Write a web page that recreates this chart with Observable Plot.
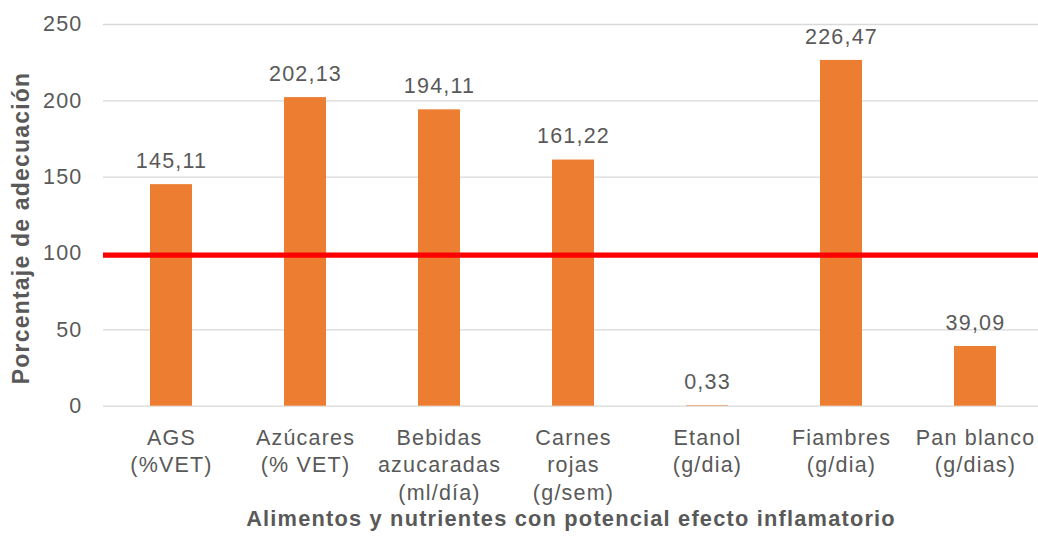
<!DOCTYPE html>
<html>
<head>
<meta charset="utf-8">
<script src="https://cdn.jsdelivr.net/npm/d3@7"></script>
<script src="https://cdn.jsdelivr.net/npm/@observablehq/plot@0.6"></script>
<style>
  html, body { margin: 0; padding: 0; background: #fff; overflow: hidden; }
  #chart svg { display: block; font-family: "Liberation Sans", Arial, sans-serif; }
  #chart svg text { letter-spacing: 1.2px; }
</style>
</head>
<body>
<div id="chart"></div>
<script>
// Categories (multi-line labels) and adequacy percentages
const categories = [
  "AGS\n(%VET)",
  "Azúcares\n(% VET)",
  "Bebidas\nazucaradas\n(ml/día)",
  "Carnes\nrojas\n(g/sem)",
  "Etanol\n(g/dia)",
  "Fiambres\n(g/dia)",
  "Pan blanco\n(g/dias)"
];
const values = [145.11, 202.13, 194.11, 161.22, 0.33, 226.47, 39.09];
const valueLabels = ["145,11", "202,13", "194,11", "161,22", "0,33", "226,47", "39,09"];
const yTicks = [0, 50, 100, 150, 200, 250];
const reference = [98.9];

const rows = categories.map((c, i) => ({cat: c, value: values[i], label: valueLabels[i]}));

const textColor = "#595959";
const width = 1038, height = 536;

const chart = Plot.plot({
  width, height,
  marginTop: 24,
  marginBottom: 130.3,
  marginLeft: 103,
  marginRight: 0,
  style: {fontSize: "21.5px", color: textColor, fontFamily: "Liberation Sans, Arial, sans-serif"},
  x: {domain: categories, range: [102.5, 1043.5], paddingInner: 0.688, paddingOuter: 0.344, label: null},
  y: {domain: [0, 250], ticks: yTicks, label: null},
  marks: [
    Plot.ruleY(yTicks, {stroke: "#d9d9d9", strokeWidth: 1.3}),
    Plot.barY(rows, {x: "cat", y: "value", fill: "#ED7D31"}),
    Plot.ruleY(reference, {stroke: "#ff0000", strokeWidth: 5.3}),
    Plot.text(rows, {x: "cat", y: "value", text: "label", dy: -23.5, fill: textColor, fontSize: 21.5}),
    Plot.axisY({ticks: yTicks, tickSize: 0, tickPadding: 21, fontSize: 21.5, fill: textColor}),
    Plot.axisX({tickSize: 0, tickPadding: 19, lineAnchor: "top", lineHeight: 1.28, fontSize: 21.5, fill: textColor, tickFormat: d => d}),
    Plot.text(["Porcentaje de adecuación"], {
      frameAnchor: "left", textAnchor: "middle", dx: -82, dy: 12.6, rotate: -90,
      fontWeight: "bold", fontSize: 23, fill: textColor
    }),
    Plot.text(["Alimentos y nutrientes con potencial efecto inflamatorio"], {
      frameAnchor: "bottom", dy: 119.6, fontWeight: "bold", fontSize: 21.8, fill: textColor
    })
  ]
});
document.getElementById("chart").appendChild(chart);
</script>
</body>
</html>
